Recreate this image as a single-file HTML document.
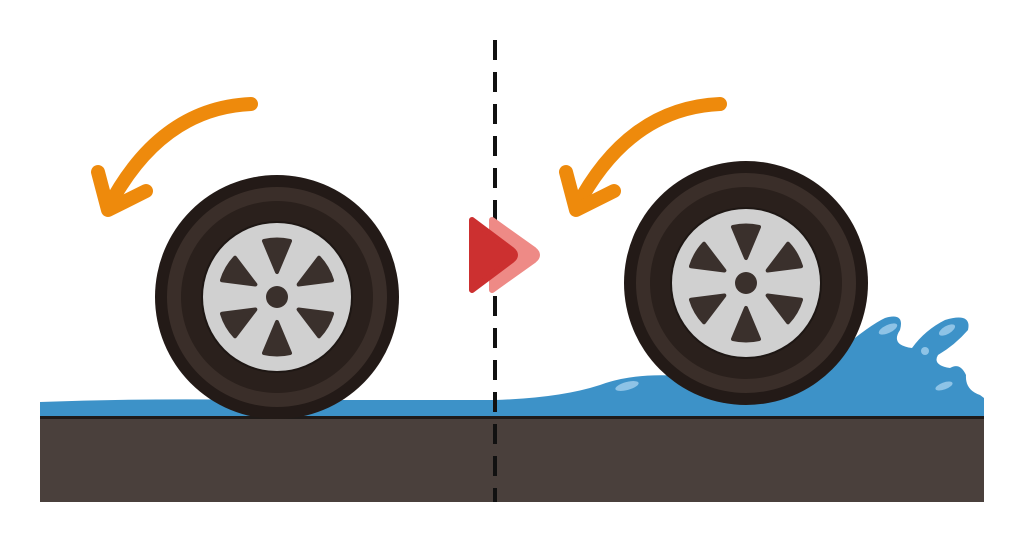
<!DOCTYPE html>
<html><head><style>html,body{margin:0;padding:0;background:#fff;}svg{display:block}</style></head>
<body>
<svg width="1024" height="545" viewBox="0 0 1024 545" xmlns="http://www.w3.org/2000/svg">
<defs>
<g id="wheel">
  <circle r="122" fill="#231a17"/>
  <circle r="110" fill="#3a2e29"/>
  <circle r="96" fill="#2a201c"/>
  <circle r="76" fill="#1e1714"/>
  <circle r="74" fill="#d0d0d0"/>
  <g fill="#3a302c" stroke="#3a302c" stroke-width="4" stroke-linejoin="round">
    <path d="M0,-25 L-13,-56 A58,58 0 0 1 13,-56 Z"/>
    <path d="M0,-25 L-13,-56 A58,58 0 0 1 13,-56 Z" transform="rotate(60)"/>
    <path d="M0,-25 L-13,-56 A58,58 0 0 1 13,-56 Z" transform="rotate(120)"/>
    <path d="M0,-25 L-13,-56 A58,58 0 0 1 13,-56 Z" transform="rotate(180)"/>
    <path d="M0,-25 L-13,-56 A58,58 0 0 1 13,-56 Z" transform="rotate(240)"/>
    <path d="M0,-25 L-13,-56 A58,58 0 0 1 13,-56 Z" transform="rotate(300)"/>
  </g>
  <circle r="11" fill="#3a302c"/>
</g>
</defs>
<rect x="40" y="418" width="944" height="84" fill="#4a403c"/>
<rect x="40" y="416" width="944" height="3" fill="#1f1a18"/>
<path d="M40,402 Q150,398 260,400 L495,400 L495,416 L40,416 Z" fill="#3d92c8"/>
<path d="M495,400 Q560,398 600,385 Q640,370 700,378 L840,350 Q870,325 885,318 Q905,312 900,330 Q890,345 912,348 Q925,330 945,320 Q972,312 968,330 Q955,345 938,355 Q932,365 950,368 Q960,362 966,375 Q965,390 980,395 L984,398 L984,416 L495,416 Z" fill="#3d92c8"/>
<g fill="#8ec3e6">
<ellipse cx="627" cy="386" rx="12" ry="4" transform="rotate(-15 627 386)"/>
<ellipse cx="888" cy="329" rx="10" ry="4" transform="rotate(-25 888 329)"/>
<ellipse cx="947" cy="330" rx="9" ry="4" transform="rotate(-30 947 330)"/>
<circle cx="925" cy="351" r="4"/>
<ellipse cx="944" cy="386" rx="9" ry="3.5" transform="rotate(-20 944 386)"/>
</g>
<use href="#wheel" transform="translate(277,297)"/>
<use href="#wheel" transform="translate(746,283)"/>
<line x1="495" y1="40" x2="495" y2="502" stroke="#111" stroke-width="4" stroke-dasharray="20 12"/>
<path d="M492,220 L534,250 Q540,255 534,260 L492,290 Z" fill="#ee8a86" stroke="#ee8a86" stroke-width="6" stroke-linejoin="round"/>
<path d="M472,220 L512,250 Q518,255 512,260 L472,290 Z" fill="#cc3030" stroke="#cc3030" stroke-width="6" stroke-linejoin="round"/>
<g fill="none" stroke="#ee8a0c" stroke-width="14" stroke-linecap="round" stroke-linejoin="round">
<path d="M251,104 Q160,108 108,208"/>
<path d="M98,172 L108,210 L146,191"/>
<path d="M720,104 Q628,108 576,208"/>
<path d="M566,172 L576,210 L614,191"/>
</g>
</svg>
</body></html>
